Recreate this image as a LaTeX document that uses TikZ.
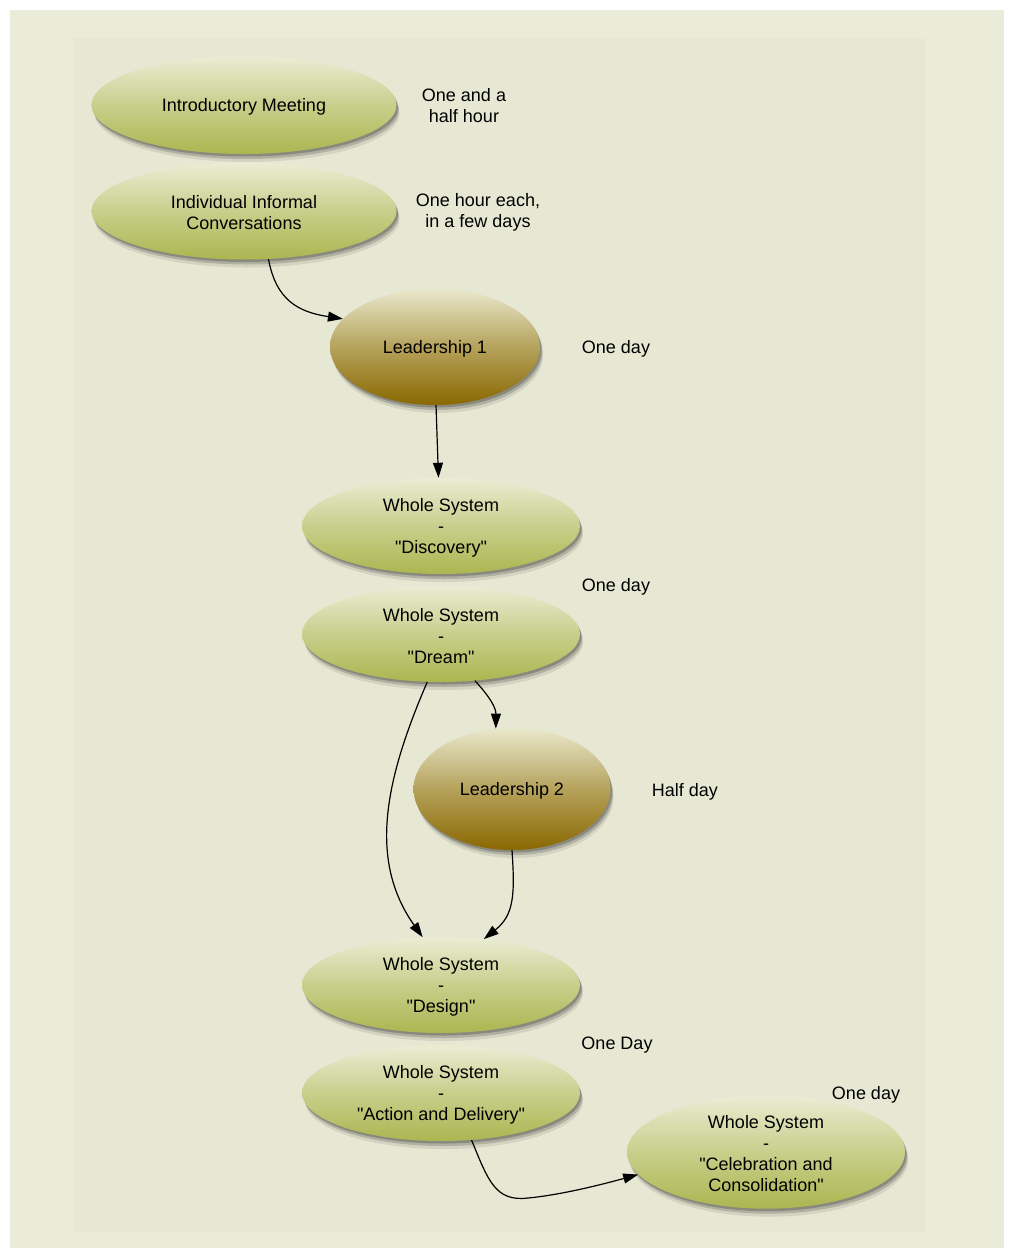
\documentclass[tikz,border=0pt]{standalone}
\usepackage{fontspec}
\setmainfont{Liberation Sans}[Ligatures=TeXOff]
\usetikzlibrary{shapes.geometric,shadows,arrows.meta}
\definecolor{outerbg}{RGB}{234,236,217}
\definecolor{innerbg}{RGB}{231,232,212}
\definecolor{gtop}{RGB}{234,237,212}
\definecolor{gbot}{RGB}{172,182,80}
\definecolor{btop}{RGB}{234,232,204}
\definecolor{bbot}{RGB}{138,104,0}
\newcommand\lowr{\rule{0pt}{17pt}}
\begin{document}
\begin{tikzpicture}[x=1pt,y=-1pt,
 every node/.style={font=\fontsize{18}{21}\selectfont, align=center},
 blur/.style={general shadow={fill=black,opacity=.22,shadow xshift=1.5pt,shadow yshift=-2.5pt},
              general shadow={fill=black,opacity=.16,shadow xshift=2.5pt,shadow yshift=-5pt},
              general shadow={fill=black,opacity=.09,shadow xshift=3pt,shadow yshift=-8pt}},
 greenell/.style={ellipse, inner sep=0pt, top color=gtop, bottom color=gbot, middle color=gtop!45!gbot, blur, minimum width=278pt, minimum height=96pt},
 brownell/.style={ellipse, inner sep=0pt, top color=btop, bottom color=bbot, middle color=btop!45!bbot, blur},
 conn/.style={-{Triangle[length=15pt,width=10pt]}, line width=1.2pt, black},
 lab/.style={}
]
\useasboundingbox (0,0) rectangle (1010,1250);
\fill[white] (0,0) rectangle (1010,1250);
\fill[outerbg] (10,10) rectangle (1004,1248);
\fill[innerbg] (73,38) rectangle (925,1232);

\node[greenell, minimum width=305pt, minimum height=98pt] (intro) at (244,105) {\lowr Introductory Meeting};
\node[greenell, minimum width=305pt, minimum height=97pt] (indiv) at (244,211) {\lowr Individual Informal\\Conversations};
\node[brownell, minimum width=210pt, minimum height=116pt] (lead1) at (435,347) {\lowr Leadership 1};
\node[greenell] (disc) at (441,526) {\lowr Whole System\\-\\"Discovery"};
\node[greenell] (dream) at (441,634) {\lowr Whole System\\-\\"Dream"};
\node[brownell, minimum width=197pt, minimum height=122pt] (lead2) at (512,789) {\lowr Leadership 2};
\node[greenell] (design) at (441,985) {\lowr Whole System\\-\\"Design"};
\node[greenell] (action) at (441,1093) {\lowr Whole System\\-\\"Action and Delivery"};
\node[greenell] (celeb) at (766,1152) {\lowr Whole System\\-\\"Celebration and\\Consolidation"};

\node[lab] (t1) at (464,106) {One and a\\half hour};
\node[lab] (t2) at (478,212) {One hour each,\\in a few days};
\node[lab] (t3) at (616,349) {One day};
\node[lab] (t4) at (616,587) {One day};
\node[lab] (t5) at (685,792) {Half day};
\node[lab] (t6) at (617,1045) {One Day};
\node[lab] (t7) at (866,1095) {One day};

\draw[conn] (indiv.-63) .. controls (276,300) and (298,312) .. (lead1.163);
\draw[conn] (lead1.-89) -- (disc.93);
\draw[conn] (dream.-106) .. controls (385,780) and (368,860) .. (design.111);
\draw[conn] (dream.-54) .. controls (490,697) and (496,708) .. (lead2.105);
\draw[conn] (lead2.-90) .. controls (515,895) and (514,915) .. (design.47);
\draw[conn] (action.-57) .. controls (488,1180) and (495,1202) .. (528,1198) .. controls (560,1195) and (600,1185) .. (celeb.-170);
\end{tikzpicture}
\end{document}
